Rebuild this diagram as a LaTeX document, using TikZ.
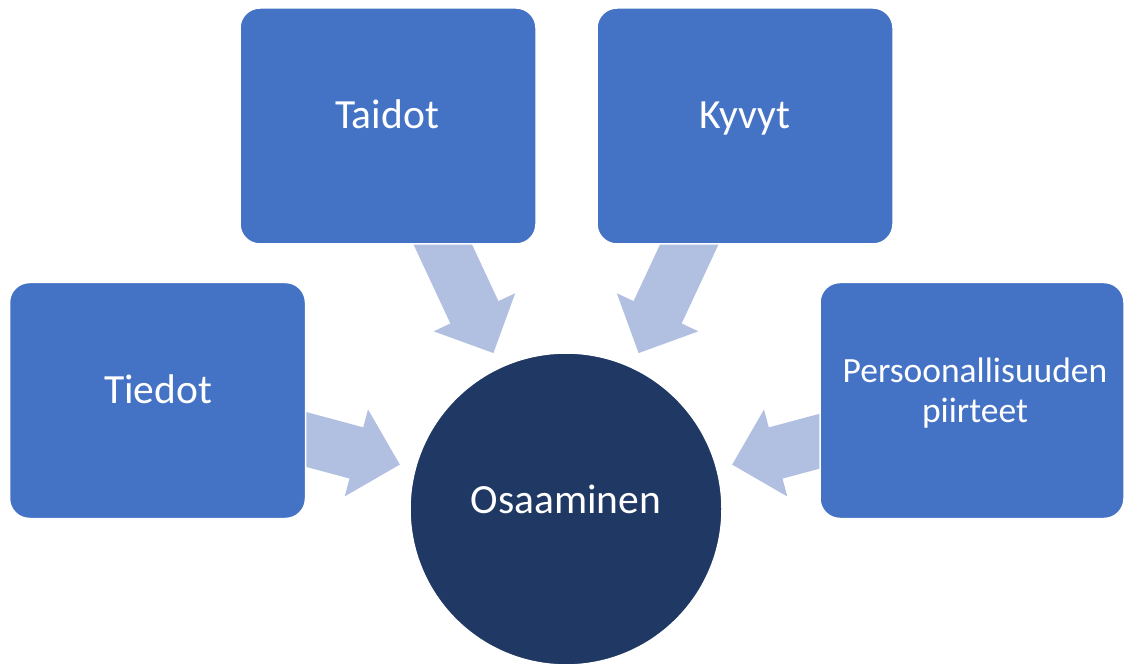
\documentclass[tikz,border=0pt]{standalone}
\usepackage{fontspec}
\setmainfont{Carlito}
\usetikzlibrary{calc}
\definecolor{boxblue}{HTML}{4472C4}
\definecolor{navy}{HTML}{203864}
\definecolor{arrowblue}{HTML}{B1BFE1}
\tikzset{
  boxnode/.style={rectangle, rounded corners=20pt, fill=boxblue, draw=white, line width=1.5pt, inner sep=0pt},
  lbl/.style={text=white, font=\fontsize{41.5}{45}\selectfont, inner sep=0pt, anchor=base, align=center},
  smalllbl/.style={lbl, font=\fontsize{35.5}{39}\selectfont},
  blockarrow/.style={fill=arrowblue, draw=none},
}
\begin{document}
\begin{tikzpicture}[x=1pt,y=-1pt]
\useasboundingbox (0,0) rectangle (1128,668);
% centre of circle and arrow sources
\coordinate (cc) at (566,509);
\coordinate (srcL) at (308,440);
\coordinate (srcTL) at (444,247);
\coordinate (srcTR) at (688,247);
\coordinate (srcR) at (817,442);
\coordinate (tipL) at ($(cc)!172pt!(srcL)$);
\coordinate (tipTL) at ($(cc)!172pt!(srcTL)$);
\coordinate (tipTR) at ($(cc)!172pt!(srcTR)$);
\coordinate (tipR) at ($(cc)!172pt!(srcR)$);
% block arrows
\foreach \t/\a in {tipL/-15, tipTL/-65, tipTR/-115, tipR/195}{
  \begin{scope}[shift={(\t)}, rotate=\a]
    \fill[blockarrow] (0,0) -- (-45,45) -- (-45,26.5) -- (-140,26.5) -- (-140,-26.5) -- (-45,-26.5) -- (-45,-45) -- cycle;
  \end{scope}
}
% boxes
\node[boxnode, minimum width=296pt, minimum height=236pt] (tiedot) at (157.5,400.5) {};
\node[boxnode, minimum width=296pt, minimum height=236pt] (taidot) at (388,126) {};
\node[boxnode, minimum width=296pt, minimum height=236pt] (kyvyt) at (745,126) {};
\node[boxnode, minimum width=304pt, minimum height=236pt] (persoona) at (972,400.5) {};
% circle
\node[circle, fill=navy, draw=white, line width=1.5pt, minimum size=312pt, inner sep=0pt] (osaaminen) at (cc) {};
% labels
\node[lbl] (tTiedot) at (158,404) {Tiedot};
\node[lbl] (tTaidot) at (387,129) {Taidot};
\node[lbl] (tKyvyt) at (745,129) {Kyvyt};
\node[smalllbl] (tPers1) at (975,383) {Persoonallisuuden};
\node[smalllbl] (tPers2) at (975,422) {piirteet};
\node[lbl] (tOsaaminen) at (566,513) {Osaaminen};
\end{tikzpicture}
\end{document}
